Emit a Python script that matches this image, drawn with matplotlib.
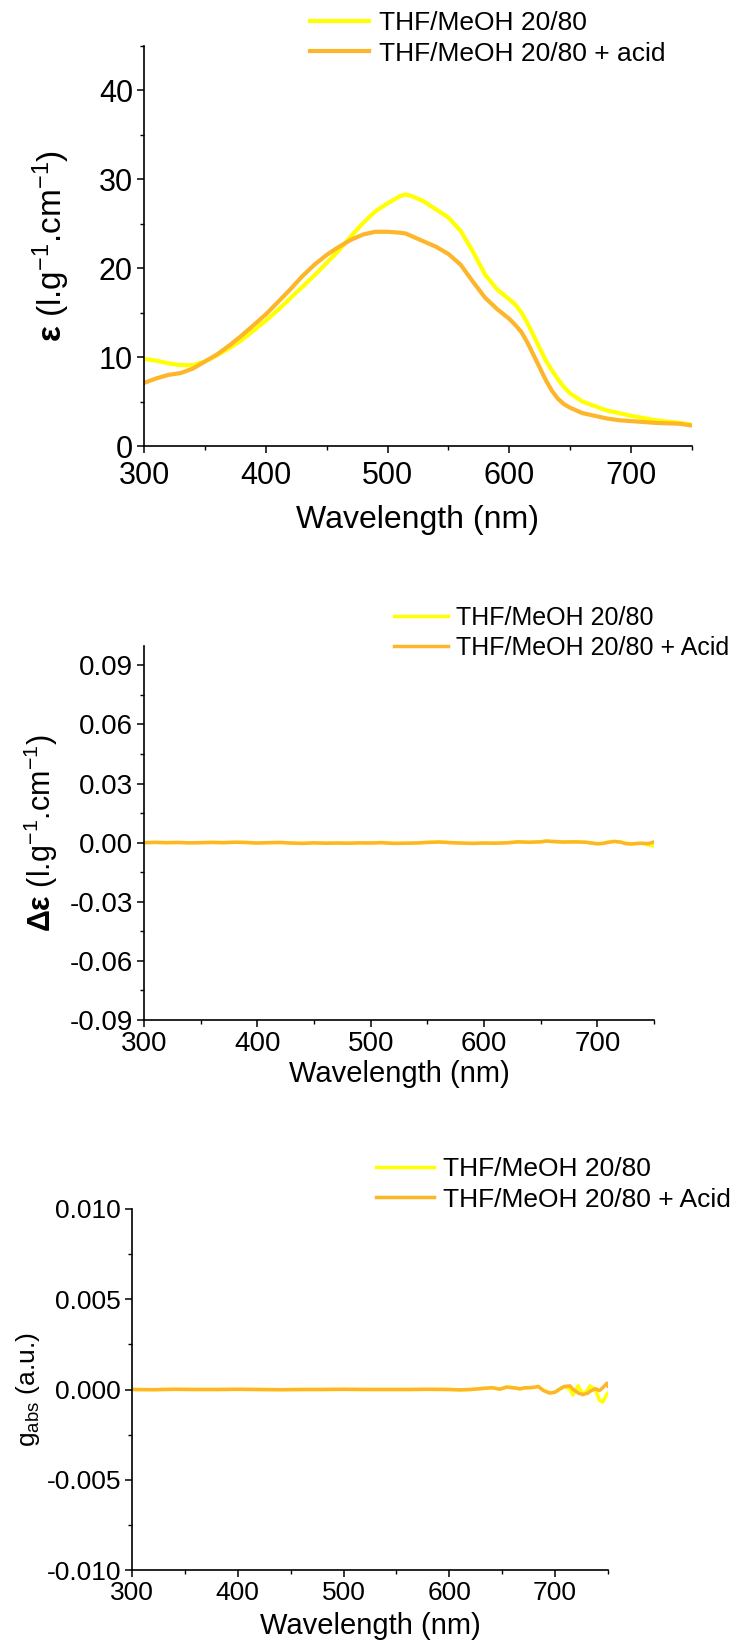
import matplotlib
matplotlib.use("Agg")
import matplotlib.pyplot as plt
from matplotlib.ticker import MultipleLocator

plt.rcParams["font.family"] = ["Liberation Sans", "DejaVu Sans"]
plt.rcParams["mathtext.fontset"] = "custom"
plt.rcParams["mathtext.rm"] = "Liberation Sans"
plt.rcParams["mathtext.it"] = "Liberation Sans"
plt.rcParams["mathtext.bf"] = "Liberation Sans:bold"

YELLOW = "#FFFF00"
ORANGE = "#FDB62A"

# --- panel 1 : absorption (epsilon) ---
wl_abs = [300, 310, 320, 330, 340, 350, 360, 370, 380, 390, 400, 410, 420, 430, 440,
          450, 460, 470, 480, 490, 500, 510, 515, 520, 530, 540, 550, 560, 570, 580,
          590, 600, 605, 610, 615, 620, 625, 630, 635, 640, 645, 650, 660, 670, 680,
          690, 700, 720, 740, 750]
eps_thf = [9.8, 9.6, 9.3, 9.1, 9.1, 9.5, 10.2, 11.0, 11.9, 13.0, 14.1, 15.3, 16.6, 17.9, 19.2,
           20.6, 22.0, 23.6, 25.1, 26.4, 27.3, 28.1, 28.3, 28.1, 27.5, 26.6, 25.7, 24.2, 21.9, 19.3,
           17.6, 16.5, 15.9, 15.0, 13.8, 12.4, 11.0, 9.6, 8.5, 7.5, 6.6, 5.9, 5.0, 4.5, 4.0,
           3.7, 3.4, 2.9, 2.6, 2.4]
eps_acid = [7.1, 7.6, 8.0, 8.2, 8.7, 9.5, 10.3, 11.3, 12.4, 13.6, 14.8, 16.2, 17.6, 19.1, 20.4,
            21.5, 22.4, 23.2, 23.8, 24.1, 24.1, 24.0, 23.9, 23.6, 23.0, 22.4, 21.6, 20.4, 18.5, 16.7,
            15.4, 14.3, 13.6, 12.8, 11.6, 10.2, 8.8, 7.4, 6.2, 5.3, 4.7, 4.3, 3.7, 3.4, 3.1,
            2.9, 2.8, 2.6, 2.5, 2.3]

# --- panel 2 : CD (delta epsilon) ---
wl_cd = [300, 310, 320, 330, 340, 350, 360, 370, 380, 390, 400, 410, 420, 430, 440,
         450, 460, 470, 480, 490, 500, 510, 520, 530, 540, 550, 560, 570, 580, 590,
         600, 610, 620, 630, 640, 650, 655, 660, 670, 680, 690, 700, 705, 710, 715,
         720, 725, 730, 735, 740, 745, 750]
deps_thf = [0.0, 0.0002, 0.0, 0.0001, -0.0001, 0.0, 0.0002, 0.0, 0.0002, 0.0001, -0.0001, 0.0, 0.0001, -0.0002, -0.0003,
            -0.0001, -0.0002, -0.0002, -0.0003, -0.0001, -0.0001, 0.0001, -0.0003, -0.0003, -0.0001, 0.0002, 0.0004, 0.0001, -0.0002, -0.0003,
            -0.0002, -0.0002, 0.0, 0.0004, 0.0002, 0.0005, 0.0008, 0.0006, 0.0004, 0.0004, 0.0002, -0.0005, -0.0003, 0.0004, 0.0007,
            0.0004, -0.0002, -0.0006, -0.0004, -0.0004, -0.0012, -0.0016]
deps_acid = [0.0, 0.0001, 0.0, 0.0001, -0.0001, 0.0, 0.0001, 0.0, 0.0002, 0.0001, -0.0002, 0.0, 0.0001, -0.0002, -0.0004,
             -0.0001, -0.0003, -0.0002, -0.0003, -0.0001, -0.0002, 0.0, -0.0004, -0.0003, -0.0002, 0.0001, 0.0003, 0.0, -0.0002, -0.0004,
             -0.0002, -0.0003, -0.0001, 0.0004, 0.0002, 0.0004, 0.0008, 0.0006, 0.0003, 0.0004, 0.0002, -0.0006, -0.0004, 0.0002, 0.0006,
             0.0003, -0.0005, -0.0007, -0.0004, -0.0003, -0.0005, 0.0004]

# --- panel 3 : dissymmetry factor ---
wl_g = [300, 320, 340, 360, 380, 400, 420, 440, 460, 480, 500, 520, 540, 560, 580,
        600, 610, 620, 630, 640, 648, 654, 660, 667, 672, 676, 680, 684, 689, 695,
        700, 705, 709, 714, 717, 721, 722, 726, 731, 733, 738, 742, 745, 749, 750]
g_thf = [0.0, -0.00001, 0.00001, 0.0, 0.0, 0.00001, 0.0, -0.00001, 0.0, 0.0, 0.00001, 0.0, 0.0, 0.0, 0.00001,
         0.0, -0.00002, 0.0, 0.00005, 0.0001, 0.00002, 0.00015, 0.0001, 0.00004, 0.0001, 0.0001, 0.00012, 0.00017, -0.00004, -0.00018,
         -0.00015, 0.00005, 0.00017, 0.0, -0.0003, 0.00015, 0.0002, -0.0003, 0.0, 0.0002, 0.0, -0.0006, -0.0007, -0.00025, -0.0002]
g_acid = [0.0, -0.00001, 0.00001, 0.0, 0.0, 0.00001, 0.0, -0.00001, 0.0, 0.0, 0.00001, 0.0, 0.0, 0.0, 0.00001,
          0.0, -0.00002, 0.0, 0.00005, 0.0001, 0.00002, 0.00013, 0.0001, 0.00004, 0.0001, 0.0001, 0.00012, 0.00017, -0.00006, -0.0002,
          -0.00015, 0.00005, 0.00017, 0.0002, 0.0, -0.00015, -0.0002, -0.00028, -0.0002, -0.0001, 0.00004, -0.00006, 0.0001, 0.00035, 0.0002]

labels_abs = ["THF/MeOH 20/80", "THF/MeOH 20/80 + acid"]
labels_cd = ["THF/MeOH 20/80", "THF/MeOH 20/80 + Acid"]

W, H = 756, 1644
fig = plt.figure(figsize=(W / 100, H / 100), dpi=100)


def box(left, top, right, bottom):
    return [left / W, 1 - bottom / H, (right - left) / W, (bottom - top) / H]


def style(ax, tick_fs, xpad=3):
    for s in ("top", "right"):
        ax.spines[s].set_visible(False)
    for s in ("left", "bottom"):
        ax.spines[s].set_linewidth(1.2)
    ax.tick_params(which="major", direction="out", length=5, width=1.1, labelsize=tick_fs, pad=3)
    ax.tick_params(axis="x", which="major", pad=xpad)
    ax.tick_params(which="minor", direction="out", length=3, width=1.0)
    ax.set_xlim(300, 750)
    ax.xaxis.set_major_locator(MultipleLocator(100))
    ax.xaxis.set_minor_locator(MultipleLocator(50))


# panel 1
ax1 = fig.add_axes(box(144, 46, 692, 446))
ax1.plot(wl_abs, eps_thf, color=YELLOW, lw=3, label=labels_abs[0])
ax1.plot(wl_abs, eps_acid, color=ORANGE, lw=3, label=labels_abs[1])
style(ax1, 22, xpad=6)
ax1.set_ylim(0, 45)
ax1.yaxis.set_major_locator(MultipleLocator(10))
ax1.yaxis.set_minor_locator(MultipleLocator(5))
ax1.set_xlabel("Wavelength (nm)", fontsize=23, va="center")
ax1.xaxis.set_label_coords(0.5, -0.185)
ax1.set_ylabel(r"$\mathbf{\varepsilon}$ (l.g$^{-1}$.cm$^{-1}$)", fontsize=24, va="center")
ax1.yaxis.set_label_coords(-0.17, 0.5)
ax1.legend(loc="upper left", bbox_to_anchor=(310 / W, 1 - 11 / H), bbox_transform=fig.transFigure,
           frameon=False, fontsize=19, handlelength=2.25, handletextpad=0.35,
           borderpad=0, borderaxespad=0, labelspacing=0.25)

# panel 2
ax2 = fig.add_axes(box(144, 646, 654, 1020))
ax2.plot(wl_cd, deps_thf, color=YELLOW, lw=2.5, label=labels_cd[0])
ax2.plot(wl_cd, deps_acid, color=ORANGE, lw=2.5, label=labels_cd[1])
style(ax2, 20)
ax2.set_ylim(-0.09, 0.0998)
ax2.set_yticks([-0.09, -0.06, -0.03, 0.0, 0.03, 0.06, 0.09])
ax2.set_yticklabels(["-0.09", "-0.06", "-0.03", "0.00", "0.03", "0.06", "0.09"])
ax2.yaxis.set_minor_locator(MultipleLocator(0.015))
ax2.set_xlabel("Wavelength (nm)", fontsize=21, va="center")
ax2.xaxis.set_label_coords(0.5, -0.145)
ax2.set_ylabel(r"$\mathbf{\Delta\varepsilon}$ (l.g$^{-1}$.cm$^{-1}$)", fontsize=22, va="center")
ax2.yaxis.set_label_coords(-0.202, 0.5)
ax2.legend(loc="upper left", bbox_to_anchor=(394 / W, 1 - 606 / H), bbox_transform=fig.transFigure,
           frameon=False, fontsize=18, handlelength=2.15, handletextpad=0.35,
           borderpad=0, borderaxespad=0, labelspacing=0.25)

# panel 3
ax3 = fig.add_axes(box(132, 1209, 608, 1570))
ax3.plot(wl_g, g_thf, color=YELLOW, lw=2.5, label=labels_cd[0])
ax3.plot(wl_g, g_acid, color=ORANGE, lw=2.5, label=labels_cd[1])
style(ax3, 19)
ax3.set_ylim(-0.01, 0.01)
ax3.set_yticks([-0.01, -0.005, 0.0, 0.005, 0.01])
ax3.set_yticklabels(["-0.010", "-0.005", "0.000", "0.005", "0.010"])
ax3.yaxis.set_minor_locator(MultipleLocator(0.0025))
ax3.set_xlabel("Wavelength (nm)", fontsize=21, va="center")
ax3.xaxis.set_label_coords(0.5, -0.155)
ax3.set_ylabel(r"g$_{\mathregular{abs}}$ (a.u.)", fontsize=19, va="center")
ax3.yaxis.set_label_coords(-0.218, 0.5)
ax3.legend(loc="upper left", bbox_to_anchor=(376 / W, 1 - 1157 / H), bbox_transform=fig.transFigure,
           frameon=False, fontsize=19, handlelength=2.2, handletextpad=0.35,
           borderpad=0, borderaxespad=0, labelspacing=0.25)

fig.savefig("out.png", dpi=100)
